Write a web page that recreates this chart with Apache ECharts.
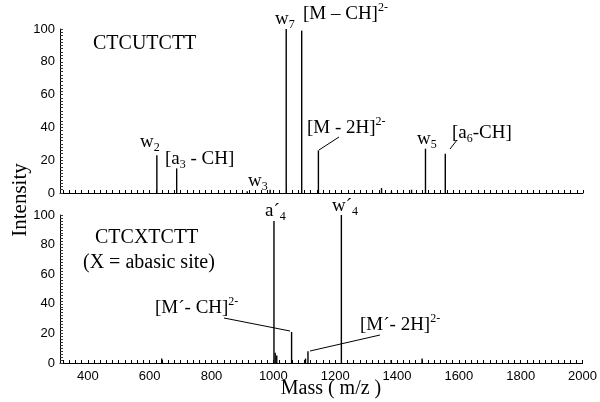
<!DOCTYPE html>
<html>
<head>
<meta charset="utf-8">
<script src="https://cdn.jsdelivr.net/npm/echarts@6/dist/echarts.min.js"></script>
<style>html,body{margin:0;padding:0;background:#fff}#c{width:600px;height:402px}</style>
</head>
<body>
<div id="c"></div>
<script>
// ---- data ----
const massTop = [623, 687, 915, 989, 1041, 1091, 1145, 1349, 1381, 1446, 1491, 1555];
const intTop  = [23, 15, 1, 2, 100, 99, 26, 3, 1, 2, 27, 24];
const massBottom = [639, 1002, 1006, 1011, 1059, 1104, 1112, 1220, 1381, 1481];
const intBottom  = [3, 96, 7, 5, 21, 3, 8, 100, 2, 3];
const xTickLabels = [400, 600, 800, 1000, 1200, 1400, 1600, 1800, 2000];
const yTickLabels = [0, 20, 40, 60, 80, 100];

const xMin = 310, xMax = 2000;
const minorX = [];
for (let v = 320; v <= 2000; v += 20) minorX.push(v);
const minorY = [];
for (let v = 0; v <= 100; v += 2) minorY.push(v);

const SERIF = '"Liberation Serif", "Times New Roman", serif';
const SANS = '"Liberation Sans", Arial, sans-serif';

const chart = echarts.init(document.getElementById('c'), null, {renderer: 'canvas'});

function xAxis(idx, labels) {
  return {
    type: 'value', gridIndex: idx, min: xMin, max: xMax,
    axisLine: {show: true, lineStyle: {color: '#000', width: 1}},
    axisTick: {show: true, inside: true, length: 3, customValues: minorX, lineStyle: {color: '#000'}},
    axisLabel: labels ? {show: true, customValues: xTickLabels, formatter: v => String(v), color: '#000', fontSize: 13, fontFamily: SANS, margin: 7} : {show: false},
    splitLine: {show: false}
  };
}
function yAxis(idx) {
  return {
    type: 'value', gridIndex: idx, min: yTickLabels[0], max: yTickLabels[yTickLabels.length - 1], interval: 20,
    axisLine: {show: true, lineStyle: {color: '#000', width: 1}},
    axisTick: {show: true, inside: true, length: 3, customValues: minorY, lineStyle: {color: '#333'}},
    axisLabel: {color: '#000', fontSize: 13, fontFamily: SANS, margin: 5, customValues: yTickLabels, formatter: v => String(v)},
    splitLine: {show: false}
  };
}

// text helpers
const mctx = document.createElement('canvas').getContext('2d');
function tw(t, size) { mctx.font = size + 'px ' + SERIF; return mctx.measureText(t).width; }
function rich(parts, x, y, base) {
  base = base || 19;
  const els = []; let cx = x;
  for (const [t, k] of parts) {
    const size = k === 'n' ? base : 12;
    const dy = k === 'sub' ? 6 : (k === 'sup' ? -6 : 0);
    els.push({type: 'text', x: cx, y: y + dy, silent: true,
      style: {text: t, font: size + 'px ' + SERIF, fill: '#000', textAlign: 'left', textVerticalAlign: 'middle', align: 'left', verticalAlign: 'middle'}});
    cx += tw(t, size);
  }
  return els;
}
function line(x1, y1, x2, y2) {
  return {type: 'line', silent: true, shape: {x1, y1, x2, y2}, style: {stroke: '#000', lineWidth: 1}};
}

const graphics = [].concat(
  rich([['CTCUTCTT', 'n']], 93, 44, 20),
  rich([['w', 'n'], ['7', 'sub']], 275, 19),
  rich([['[M – CH]', 'n'], ['2-', 'sup']], 303, 14),
  rich([['w', 'n'], ['2', 'sub']], 140, 142),
  rich([['[a', 'n'], ['3', 'sub'], [' - CH]', 'n']], 165, 159),
  rich([['w', 'n'], ['3', 'sub']], 248, 181),
  rich([['[M - 2H]', 'n'], ['2-', 'sup']], 307, 128),
  rich([['w', 'n'], ['5', 'sub']], 417, 139),
  rich([['[a', 'n'], ['6', 'sub'], ['-CH]', 'n']], 452, 133),
  [line(339, 137, 319, 150), line(457, 140, 450, 149)],
  rich([['CTCXTCTT', 'n']], 95, 238, 20),
  rich([['(X = abasic site)', 'n']], 83, 263, 20),
  rich([['a´', 'n'], ['4', 'sub']], 265, 211),
  rich([['w´', 'n'], ['4', 'sub']], 332, 206),
  rich([['[M´- CH]', 'n'], ['2-', 'sup']], 155, 308),
  rich([['[M´- 2H]', 'n'], ['2-', 'sup']], 360, 325),
  [line(224, 318, 290, 331), line(380, 335, 310, 351)],
  [{type: 'text', x: 331, y: 389, silent: true,
    style: {text: 'Mass ( m/z )', font: '20px ' + SERIF, fill: '#000', textAlign: 'center', textVerticalAlign: 'middle', align: 'center', verticalAlign: 'middle'}},
   {type: 'text', x: 20, y: 200, rotation: Math.PI / 2, silent: true,
    style: {text: 'Intensity', font: '21px ' + SERIF, fill: '#000', textAlign: 'center', textVerticalAlign: 'middle', align: 'center', verticalAlign: 'middle'}}]
);

chart.setOption({
  animation: false,
  backgroundColor: '#fff',
  grid: [
    {left: 60, right: 17, top: 29, height: 164},
    {left: 60, right: 17, top: 215, height: 148}
  ],
  xAxis: [xAxis(0, false), xAxis(1, true)],
  yAxis: [yAxis(0), yAxis(1)],
  series: [
    {type: 'bar', xAxisIndex: 0, yAxisIndex: 0, barWidth: 1.4, itemStyle: {color: '#000'},
     data: massTop.map((m, i) => [m, intTop[i]])},
    {type: 'bar', xAxisIndex: 1, yAxisIndex: 1, barWidth: 1.4, itemStyle: {color: '#000'},
     data: massBottom.map((m, i) => [m, intBottom[i]])}
  ],
  graphic: graphics
});
</script>
</body>
</html>
